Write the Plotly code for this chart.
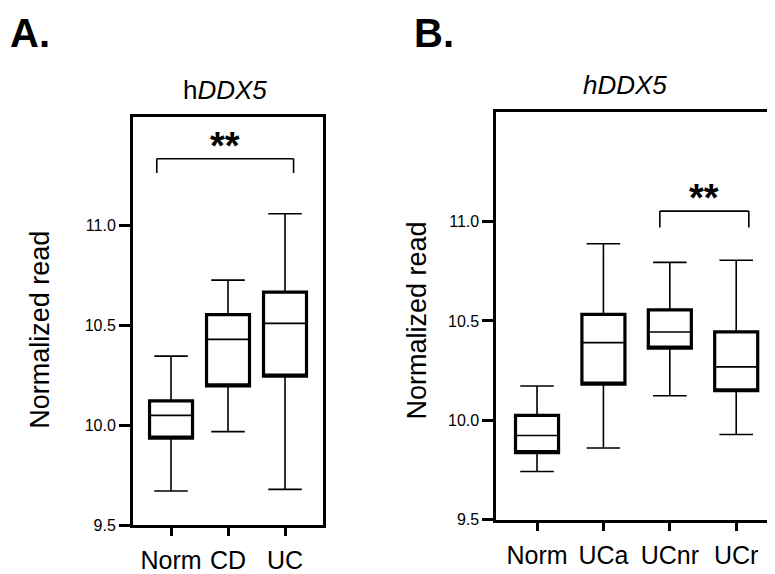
import plotly.graph_objects as go

# ---------------- data ----------------
cats_A = ["Norm", "CD", "UC"]
lowA = [9.672, 9.969, 9.680]
q1A = [9.936, 10.197, 10.246]
medA = [10.050, 10.430, 10.510]
q3A = [10.123, 10.554, 10.666]
highA = [10.346, 10.726, 11.058]

cats_B = ["Norm", "UCa", "UCnr", "UCr"]
lowB = [9.743, 9.861, 10.124, 9.929]
q1B = [9.838, 10.182, 10.363, 10.149]
medB = [9.924, 10.391, 10.444, 10.269]
q3B = [10.025, 10.533, 10.555, 10.445]
highB = [10.173, 10.888, 10.794, 10.805]

y_ticks = [9.5, 10.0, 10.5, 11.0]
y_tick_text = ["9.5", "10.0", "10.5", "11.0"]

# significance brackets (category index from/to, bracket level, leg end)
sigA = dict(x0=-0.25, x1=2.15, y=11.333, yleg=11.262, text="**")
sigB = dict(x0=1.85, x1=3.19, y=11.052, yleg=10.970, text="**")

FONT = "Liberation Sans, Arial, Helvetica, sans-serif"

fig = go.Figure()


def add_boxes(cats, low, q1, med, q3, high, xa, ya, width):
    # thick box outline (no whiskers, median hidden on bottom edge)
    fig.add_trace(go.Box(
        x=cats, q1=q1, median=q1, q3=q3, lowerfence=q1, upperfence=q3,
        xaxis=xa, yaxis=ya, width=width, whiskerwidth=0.78,
        line=dict(color="black", width=3.2), fillcolor="rgba(0,0,0,0)",
        boxpoints=False, showlegend=False, hoverinfo="skip"))
    # thin whiskers and median
    fig.add_trace(go.Box(
        x=cats, q1=q1, median=med, q3=q3, lowerfence=low, upperfence=high,
        xaxis=xa, yaxis=ya, width=width, whiskerwidth=0.78,
        line=dict(color="black", width=1.6), fillcolor="rgba(0,0,0,0)",
        boxpoints=False, showlegend=False, hoverinfo="skip"))


add_boxes(cats_A, lowA, q1A, medA, q3A, highA, "x", "y", 0.754)
add_boxes(cats_B, lowB, q1B, medB, q3B, highB, "x2", "y2", 0.648)

xcommon = dict(
    type="category", showline=True, mirror=True, linewidth=3, linecolor="black",
    ticks="outside", ticklen=8, tickwidth=3, tickcolor="black",
    tickfont=dict(family=FONT, size=25, color="black"),
    showgrid=False, zeroline=False, fixedrange=True, ticklabelstandoff=3)
ycommon = dict(
    showline=True, mirror=True, linewidth=3, linecolor="black",
    ticks="outside", ticklen=11, tickwidth=3, tickcolor="black",
    tickvals=y_ticks, ticktext=y_tick_text,
    tickfont=dict(family=FONT, size=16, color="black"),
    showgrid=False, zeroline=False, fixedrange=True)

fig.update_layout(
    width=775, height=574,
    margin=dict(l=0, r=0, t=0, b=0),
    paper_bgcolor="white", plot_bgcolor="white",
    boxmode="overlay",
    xaxis=dict(domain=[0.1613, 0.4065], range=[-0.667, 2.667], anchor="y",
               categoryorder="array", categoryarray=cats_A, **xcommon),
    yaxis=dict(domain=[0.0842, 0.8066], range=[9.5, 11.54], anchor="x", **ycommon),
    xaxis2=dict(domain=[0.6301, 0.9906], range=[-0.613, 3.595], anchor="y2",
                categoryorder="array", categoryarray=cats_B, **xcommon),
    yaxis2=dict(domain=[0.0941, 0.8159], range=[9.5, 11.55], anchor="x2", **ycommon),
)

# brackets
for sig, xr, yr in [(sigA, "x", "y"), (sigB, "x2", "y2")]:
    line = dict(color="black", width=1.6)
    fig.add_shape(type="line", xref=xr, yref=yr, x0=sig["x0"], x1=sig["x1"],
                  y0=sig["y"], y1=sig["y"], line=line)
    fig.add_shape(type="line", xref=xr, yref=yr, x0=sig["x0"], x1=sig["x0"],
                  y0=sig["y"], y1=sig["yleg"], line=line)
    fig.add_shape(type="line", xref=xr, yref=yr, x0=sig["x1"], x1=sig["x1"],
                  y0=sig["y"], y1=sig["yleg"], line=line)
    fig.add_annotation(xref=xr, yref=yr, x=(sig["x0"] + sig["x1"]) / 2, y=sig["y"],
                       text="<b>" + sig["text"] + "</b>", showarrow=False,
                       yanchor="bottom", yshift=-10,
                       font=dict(family=FONT, size=38, color="black"))

# titles
for x, y, t in [(217 / 775, 1 - 83.5 / 574, "h<i>DDX5</i>"),
                (616.7 / 775, 1 - 78.3 / 574, "<i>hDDX5</i>")]:
    fig.add_annotation(xref="paper", yref="paper", x=x, y=y, text=t,
                       showarrow=False, xanchor="center", yanchor="middle",
                       font=dict(family=FONT, size=26, color="black"))

# panel letters
for x, t in [(0.0, "<b>A.</b>"), (404 / 775, "<b>B.</b>")]:
    fig.add_annotation(xref="paper", yref="paper", x=x, y=1 - 1 / 574, text=t,
                       showarrow=False, xanchor="left", yanchor="top",
                       font=dict(family=FONT, size=40, color="black"))

for xc, yc in [(32.5 / 775, 1 - 327.5 / 574), (409 / 775, 1 - 317.5 / 574)]:
    fig.add_annotation(xref="paper", yref="paper", x=xc, y=yc, text="Normalized read",
                       textangle=-90, showarrow=False, xanchor="center", yanchor="middle",
                       font=dict(family=FONT, size=27, color="black"))

fig.write_html("out.html")
